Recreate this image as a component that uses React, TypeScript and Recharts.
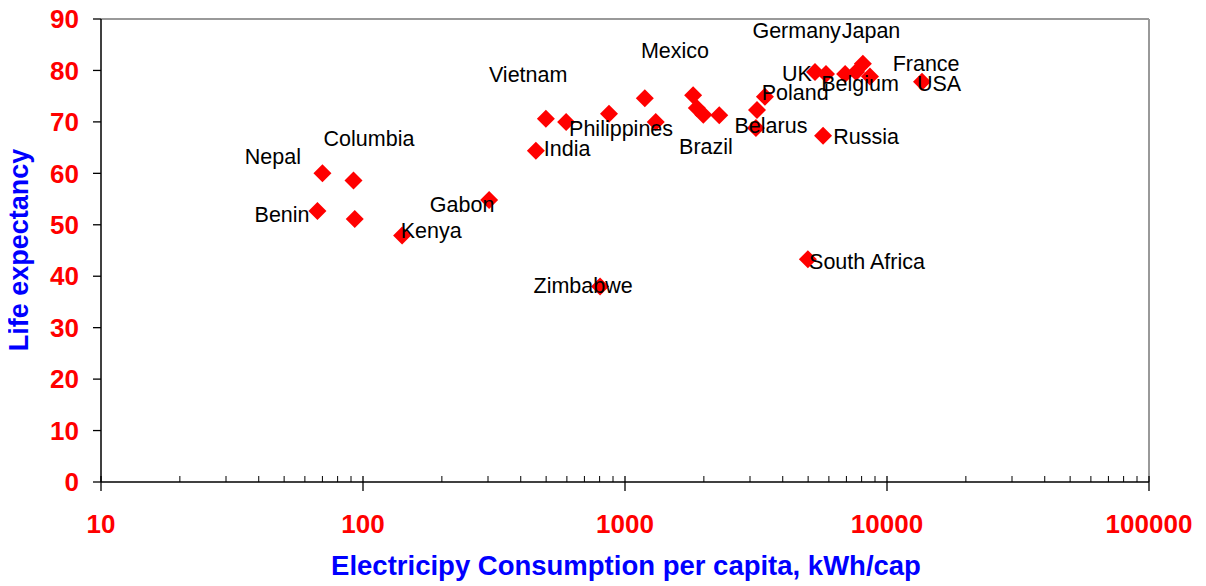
import React from "react";
import {
  ScatterChart,
  Scatter,
  XAxis,
  YAxis,
  ReferenceLine,
} from "recharts";

// Electricity consumption per capita (kWh/cap) and life expectancy
const consumption = [
  70, 92, 67, 93, 141, 303, 457, 499, 596, 869, 1190, 1310, 1820, 1880, 1990,
  2290, 3160, 3190, 3420, 5700, 4990, 803, 5310, 5850, 6920, 7620, 8090, 8610,
  13600,
];
const lifeExpectancy = [
  60.0, 58.6, 52.7, 51.1, 47.9, 54.8, 64.4, 70.6, 70.0, 71.6, 74.6, 70.0, 75.2,
  72.7, 71.4, 71.3, 68.8, 72.3, 74.9, 67.3, 43.3, 38.0, 79.7, 79.3, 79.3, 79.7,
  81.3, 78.8, 77.8,
];

// Country labels, anchored in data units
const labelNames = [
  "Nepal", "Columbia", "Benin", "Kenya", "Gabon", "India", "Vietnam",
  "Philippines", "Mexico", "Brazil", "Belarus", "Poland", "UK", "Belgium",
  "Germany", "Japan", "France", "USA", "Russia", "South Africa", "Zimbabwe",
];
const labelX = [
  45.3, 105.4, 49.1, 182, 239, 601, 427, 966, 1552, 2037, 3606, 4460, 4530,
  7890, 4520, 8690, 14100, 15800, 8320, 8390, 692,
];
const labelY = [
  63.2, 66.7, 51.9, 48.8, 53.8, 64.7, 79.1, 68.6, 83.8, 65.1, 69.2, 75.6, 79.3,
  77.4, 87.7, 87.7, 81.3, 77.4, 67.1, 42.8, 38.1,
];

const xMajor = [10, 100, 1000, 10000, 100000];
const xMinorMultipliers = [2, 3, 4, 5, 6, 7, 8, 9];
const yTicks = [0, 10, 20, 30, 40, 50, 60, 70, 80, 90];

const points = consumption.map((x, i) => ({ x, y: lifeExpectancy[i] }));
const labels = labelNames.map((name, i) => ({ x: labelX[i], y: labelY[i], name }));
const xTicks: number[] = [];
xMajor.forEach((m, i) => {
  xTicks.push(m);
  if (i < xMajor.length - 1) xMinorMultipliers.forEach((k) => xTicks.push(m * k));
});

const FONT = "'Liberation Sans', Arial, Helvetica, sans-serif";

const Diamond = (props: any) => {
  const { cx, cy } = props;
  if (cx == null || cy == null) return null;
  const r = 9;
  return (
    <polygon
      points={`${cx},${cy - r} ${cx + r},${cy} ${cx},${cy + r} ${cx - r},${cy}`}
      fill="#ff0000"
    />
  );
};

const LabelShape = (props: any) => {
  const { cx, cy, payload } = props;
  if (cx == null || cy == null) return null;
  return (
    <text
      x={cx}
      y={cy}
      textAnchor="middle"
      dominantBaseline="central"
      fontFamily={FONT}
      fontSize={21.5}
      fill="#000"
    >
      {payload.name}
    </text>
  );
};

const XTick = (props: any) => {
  const { x, y, payload } = props;
  const v = payload.value;
  const isMajor = xMajor.some((m) => Math.abs(m - v) < 1e-6);
  if (isMajor) {
    return (
      <g>
        <line x1={x} y1={y - 6} x2={x} y2={y + 9} stroke="#000" strokeWidth={1.3} />
        <text
          x={x}
          y={y + 51}
          textAnchor="middle"
          fontFamily={FONT}
          fontWeight="bold"
          fontSize={26}
          fill="#ff0000"
        >
          {v}
        </text>
      </g>
    );
  }
  return <line x1={x} y1={y - 6} x2={x} y2={y} stroke="#000" strokeWidth={1} />;
};

const XTitle = () => (
  <text
    x={618}
    y={567}
    textAnchor="middle"
    fontFamily={FONT}
    fontWeight="bold"
    fontSize={27.5}
    fill="#0000ff"
  >
    Electricipy Consumption per capita, kWh/cap
  </text>
);

const YTitle = () => (
  <text
    x={20}
    y={242}
    textAnchor="middle"
    transform="rotate(-90 20 242)"
    fontFamily={FONT}
    fontWeight="bold"
    fontSize={27}
    fill="#0000ff"
  >
    Life expectancy
  </text>
);

export default function App() {
  return (
    <ScatterChart
      width={1190}
      height={578}
      margin={{ top: 11, right: 49, bottom: 0, left: 0 }}
    >
      <XAxis
        type="number"
        dataKey="x"
        scale="log"
        domain={[10, 100000]}
        allowDataOverflow
        ticks={xTicks}
        interval={0}
        tickSize={0}
        tickMargin={0}
        tick={<XTick />}
        axisLine={{ stroke: "#000", strokeWidth: 1.5 }}
        tickLine={false}
        height={104}
        label={<XTitle />}
      />
      <YAxis
        type="number"
        dataKey="y"
        domain={[0, 90]}
        ticks={yTicks}
        interval={0}
        width={93}
        tickSize={8}
        tickMargin={14}
        axisLine={{ stroke: "#000", strokeWidth: 1.5 }}
        tickLine={{ stroke: "#000", strokeWidth: 1.3 }}
        tick={{ fill: "#ff0000", fontSize: 26, fontWeight: "bold", fontFamily: FONT }}
        label={<YTitle />}
      />
      <ReferenceLine y={90} stroke="#999" strokeWidth={2} />
      <ReferenceLine x={100000} stroke="#999" strokeWidth={2} />
      <Scatter data={points} shape={<Diamond />} isAnimationActive={false} />
      <Scatter data={labels} shape={<LabelShape />} isAnimationActive={false} />
    </ScatterChart>
  );
}
